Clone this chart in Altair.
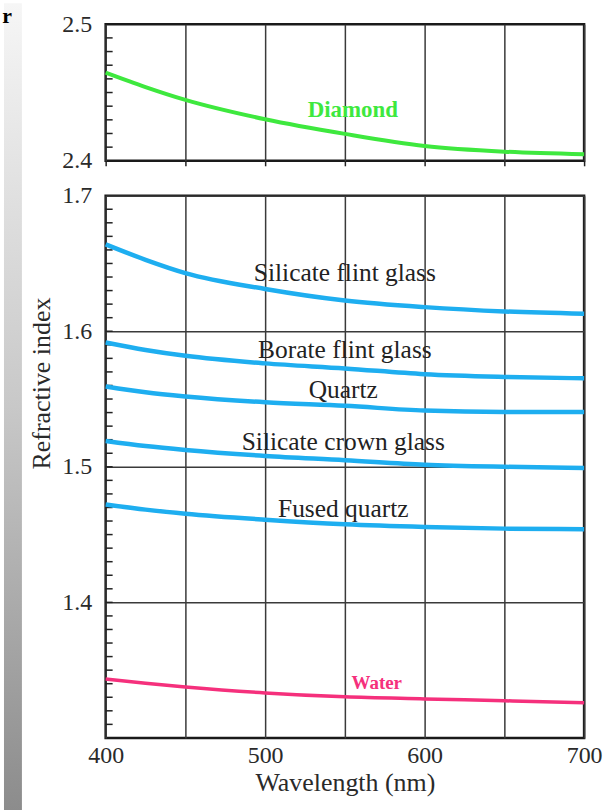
import altair as alt
import pandas as pd
import numpy as np

# ---- data ----
wavelengths = [400, 425, 450, 500, 550, 600, 650, 700]
diamond = [2.4646, 2.4540, 2.4446, 2.4304, 2.4197, 2.4109, 2.4067, 2.4048]
silicate_flint = [1.6641, 1.6527, 1.6429, 1.6312, 1.6227, 1.6178, 1.6146, 1.6129]
borate_flint = [1.5917, 1.5862, 1.5819, 1.5763, 1.5726, 1.5683, 1.5663, 1.5653]
quartz = [1.5593, 1.5550, 1.5519, 1.5476, 1.5450, 1.5415, 1.5405, 1.5405]
silicate_crown = [1.5190, 1.5153, 1.5124, 1.5080, 1.5049, 1.5015, 1.5000, 1.4992]
fused_quartz = [1.4722, 1.4684, 1.4654, 1.4610, 1.4576, 1.4556, 1.4544, 1.4540]
water = [1.3435, 1.3403, 1.3376, 1.3332, 1.3303, 1.3288, 1.3274, 1.3259]

glass_names = ["Silicate flint glass", "Borate flint glass", "Quartz",
               "Silicate crown glass", "Fused quartz"]
glass_series = [silicate_flint, borate_flint, quartz, silicate_crown, fused_quartz]

# label anchor points (data units)
glass_label_wl = [550, 550, 549, 549, 549]
glass_label_n = [1.6427, 1.5863, 1.5570, 1.5183, 1.4686]
diamond_label = ("Diamond", 555, 2.437)
water_label = ("Water", 570, 1.3405)

x_ticks = [400, 450, 500, 550, 600, 650, 700]
top_y_labels = [2.4, 2.5]
bottom_y_labels = [1.4, 1.5, 1.6, 1.7]

FONT = "Liberation Serif"
BLUE = "#1eaef0"
GREEN = "#3ee83e"
PINK = "#f5307c"
INK = "#222222"

W = 480

# ---- tables ----
diamond_df = pd.DataFrame({"wl": wavelengths, "n": diamond})
water_df = pd.DataFrame({"wl": wavelengths, "n": water})
glass_df = pd.DataFrame(
    [{"series": nm, "wl": w, "n": v}
     for nm, s in zip(glass_names, glass_series) for w, v in zip(wavelengths, s)]
)
glass_lab_df = pd.DataFrame({"label": glass_names, "wl": glass_label_wl, "n": glass_label_n})
top_ticks_df = pd.DataFrame({"n": np.round(np.arange(2.41, 2.4951, 0.01), 2)})
bot_ticks_df = pd.DataFrame({"n": np.round(np.arange(1.31, 1.6951, 0.01), 2)})

# ---- top panel (diamond) ----
x_top = alt.X("wl:Q", scale=alt.Scale(domain=[400, 700], nice=False, zero=False),
              axis=alt.Axis(values=x_ticks, labels=False, ticks=True, tickSize=5,
                            tickColor=INK, tickWidth=1.5, domain=False, grid=True, title=None))
y_top = alt.Y("n:Q", scale=alt.Scale(domain=[2.4, 2.5], nice=False, zero=False),
              axis=alt.Axis(values=top_y_labels, format=".1f", ticks=False, domain=False,
                            grid=False, labelPadding=14, title=None))

strip = alt.Chart(pd.DataFrame({"a": [0]})).mark_rect(
    color=alt.Gradient(gradient="linear",
                       stops=[alt.GradientStop(color="#f6f6f6", offset=0),
                              alt.GradientStop(color="#c8c8c8", offset=0.5),
                              alt.GradientStop(color="#8c8c8c", offset=1)],
                       x1=0, x2=0, y1=0, y2=1)
).encode(x=alt.value(-102), x2=alt.value(-84), y=alt.value(-21), y2=alt.value(789))

corner = alt.Chart(pd.DataFrame({"t": ["r"]})).mark_text(
    font=FONT, fontSize=22, fontWeight="bold", color="#000000", align="right",
    baseline="top"
).encode(x=alt.value(-94), y=alt.value(-18), text="t:N")

d_line = alt.Chart(diamond_df).mark_line(color=GREEN, strokeWidth=4, interpolate="monotone").encode(
    x=x_top, y=y_top)
d_text = alt.Chart(pd.DataFrame({"label": [diamond_label[0]], "wl": [diamond_label[1]],
                                 "n": [diamond_label[2]]})).mark_text(
    font=FONT, fontSize=23, fontWeight="bold", color=GREEN).encode(x=x_top, y=y_top, text="label:N")
d_ticks = alt.Chart(top_ticks_df).mark_rule(color=INK, strokeWidth=1.5).encode(
    y=y_top, x=alt.value(0), x2=alt.value(7))

top = alt.layer(strip, corner, d_ticks, d_line, d_text).properties(width=W, height=137)

# ---- bottom panel ----
x_bot = alt.X("wl:Q", scale=alt.Scale(domain=[400, 700], nice=False, zero=False),
              axis=alt.Axis(values=x_ticks,
                            labelExpr="datum.value % 100 == 0 ? datum.label : ''",
                            ticks=False, domain=False, grid=True, labelFlush=False,
                            labelPadding=6, title="Wavelength (nm)", titlePadding=2))
y_bot = alt.Y("n:Q", scale=alt.Scale(domain=[1.3, 1.7], nice=False, zero=False),
              axis=alt.Axis(values=bottom_y_labels, format=".1f", ticks=False, domain=False,
                            grid=True, labelPadding=14, title="Refractive index",
                            titlePadding=7, titleY=188))

g_lines = alt.Chart(glass_df).mark_line(color=BLUE, strokeWidth=4.5, interpolate="monotone").encode(
    x=x_bot, y=y_bot, detail="series:N")
g_text = alt.Chart(glass_lab_df).mark_text(font=FONT, fontSize=25.5, color=INK).encode(
    x=x_bot, y=y_bot, text="label:N")
w_line = alt.Chart(water_df).mark_line(color=PINK, strokeWidth=3.5, interpolate="monotone").encode(
    x=x_bot, y=y_bot)
w_text = alt.Chart(pd.DataFrame({"label": [water_label[0]], "wl": [water_label[1]],
                                 "n": [water_label[2]]})).mark_text(
    font=FONT, fontSize=19, fontWeight="bold", color=PINK).encode(x=x_bot, y=y_bot, text="label:N")
b_ticks = alt.Chart(bot_ticks_df).mark_rule(color=INK, strokeWidth=1.5).encode(
    y=y_bot, x=alt.value(0), x2=alt.value(7))

bottom = alt.layer(b_ticks, g_lines, w_line, g_text, w_text).properties(width=W, height=544)

chart = alt.vconcat(top, bottom, spacing=35, bounds="flush").properties(
    padding={"left": 0, "top": 0, "right": 10, "bottom": 0},
    background="white"
).configure_view(
    stroke="#1a1a1a", strokeWidth=2.5
).configure_axis(
    labelFont=FONT, labelFontSize=24, labelColor="#2a2a2a",
    titleFont=FONT, titleFontSize=26, titleColor="#2a2a2a", titleFontWeight="normal",
    gridColor="#3a3a3a", gridWidth=1.5, gridOpacity=1
)

chart.save("out.html", embed_options={"renderer": "svg", "actions": False})
